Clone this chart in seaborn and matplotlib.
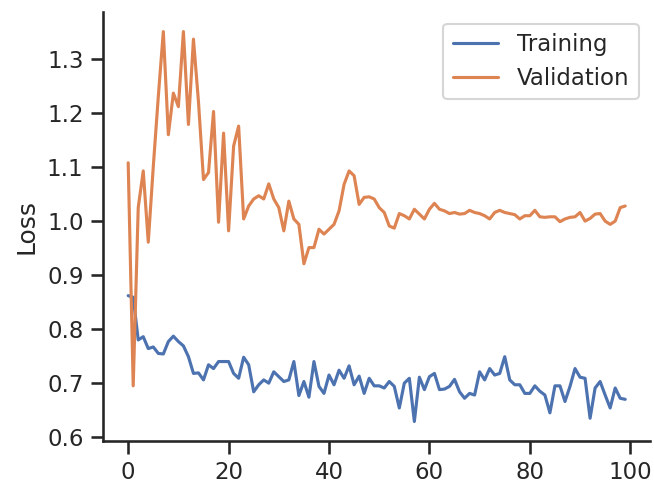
import numpy as np
import pandas as pd
import seaborn as sns
import matplotlib
matplotlib.use("Agg")
import matplotlib.pyplot as plt

training = [
    0.861, 0.858, 0.779, 0.785, 0.763, 0.766, 0.754, 0.753, 0.776, 0.786,
    0.776, 0.768, 0.748, 0.717, 0.718, 0.705, 0.733, 0.726, 0.739, 0.739,
    0.739, 0.717, 0.708, 0.747, 0.733, 0.683, 0.696, 0.705, 0.699, 0.720,
    0.711, 0.702, 0.705, 0.739, 0.676, 0.702, 0.673, 0.739, 0.693, 0.680,
    0.714, 0.696, 0.723, 0.708, 0.731, 0.696, 0.712, 0.680, 0.708, 0.694,
    0.694, 0.690, 0.702, 0.693, 0.653, 0.699, 0.708, 0.628, 0.710, 0.687,
    0.711, 0.717, 0.687, 0.688, 0.693, 0.706, 0.683, 0.671, 0.680, 0.677,
    0.720, 0.705, 0.726, 0.714, 0.717, 0.748, 0.705, 0.696, 0.696, 0.680,
    0.680, 0.694, 0.684, 0.677, 0.644, 0.694, 0.694, 0.665, 0.693, 0.726,
    0.710, 0.708, 0.634, 0.690, 0.702, 0.677, 0.653, 0.690, 0.671, 0.669,
]

validation = [
    1.107, 0.694, 1.024, 1.092, 0.960, 1.100, 1.230, 1.350, 1.159, 1.236,
    1.211, 1.350, 1.178, 1.336, 1.220, 1.076, 1.089, 1.202, 0.997, 1.162,
    0.981, 1.138, 1.175, 1.003, 1.027, 1.040, 1.046, 1.040, 1.068, 1.040,
    1.024, 0.981, 1.036, 1.003, 0.993, 0.920, 0.950, 0.950, 0.984, 0.975,
    0.984, 0.993, 1.018, 1.067, 1.092, 1.083, 1.030, 1.043, 1.044, 1.040,
    1.024, 1.015, 0.990, 0.986, 1.013, 1.009, 1.003, 1.021, 1.012, 1.003,
    1.021, 1.032, 1.021, 1.018, 1.013, 1.015, 1.012, 1.013, 1.019, 1.015,
    1.013, 1.009, 1.003, 1.015, 1.019, 1.015, 1.013, 1.011, 1.003, 1.009,
    1.009, 1.019, 1.007, 1.006, 1.007, 1.007, 0.998, 1.003, 1.006, 1.007,
    1.015, 0.999, 1.004, 1.012, 1.013, 0.999, 0.993, 0.999, 1.024, 1.027,
]

epochs = list(range(len(training)))

sns.set_theme(style="ticks")

df = pd.DataFrame({"Training": training, "Validation": validation}, index=epochs)

dpi = 150
fig, ax = plt.subplots(figsize=(654 / dpi, 483 / dpi), dpi=dpi)
sns.lineplot(data=df, dashes=False, ax=ax)
ax.set_ylabel("Loss")
ax.set_xlabel("")
ax.set_xticks([0, 20, 40, 60, 80, 100])
sns.despine(ax=ax)
ax.legend(loc="upper right")
fig.subplots_adjust(left=0.158, right=0.994, top=0.975, bottom=0.087)
fig.savefig("out.png", dpi=dpi)
